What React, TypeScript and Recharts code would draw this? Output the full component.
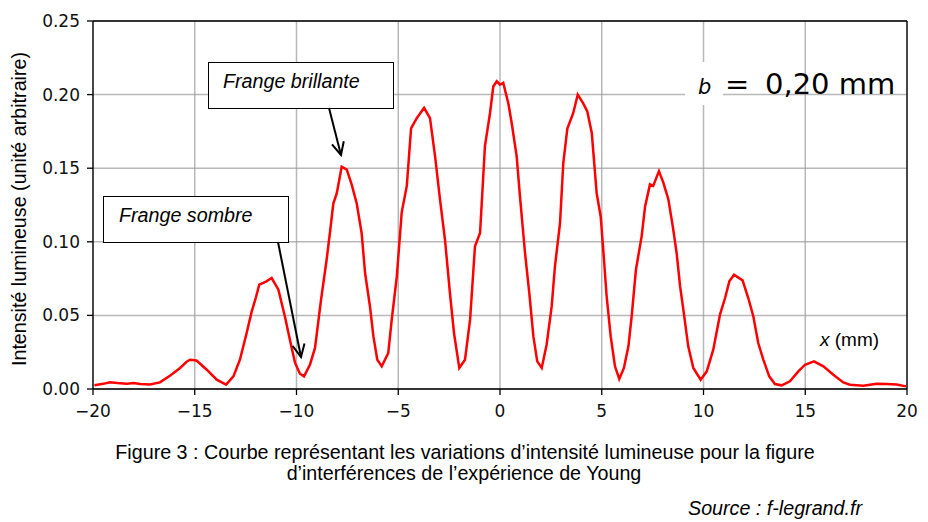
import React from 'react';
import { LineChart, Line, XAxis, YAxis, CartesianGrid, ReferenceLine } from 'recharts';

// positions (mm)
const positionMm = [
  -19.93, -19.5, -19.16, -18.8, -18.34, -18.0, -17.69, -17.2, -16.71, -16.22,
  -15.72, -15.4, -15.23, -15.0, -14.9, -14.41, -13.92, -13.46, -13.1, -12.78,
  -12.45, -12.2, -12.0, -11.83, -11.5, -11.22, -10.89, -10.57, -10.29, -10.07,
  -9.83, -9.63, -9.34, -9.09, -8.8, -8.52, -8.35, -8.19, -8.02, -7.78,
  -7.53, -7.29, -7.04, -6.8, -6.63, -6.39, -6.22, -6.03, -5.81, -5.49,
  -5.32, -5.07, -4.83, -4.58, -4.37, -4.09, -3.73, -3.44, -3.19, -2.95,
  -2.7, -2.46, -2.26, -2.0, -1.72, -1.47, -1.23, -0.98, -0.74, -0.49,
  -0.33, -0.16, 0.0, 0.16, 0.41, 0.57, 0.82, 0.98, 1.23, 1.44,
  1.64, 1.83, 2.05, 2.29, 2.54, 2.7, 2.95, 3.11, 3.31, 3.6,
  3.82, 4.09, 4.29, 4.51, 4.75, 4.95, 5.11, 5.24, 5.44, 5.65,
  5.86, 6.09, 6.31, 6.47, 6.68, 6.96, 7.13, 7.37, 7.53, 7.81,
  8.03, 8.27, 8.49, 8.68, 8.85, 9.01, 9.25, 9.5, 9.86, 10.16,
  10.48, 10.81, 11.06, 11.27, 11.5, 11.92, 12.2, 12.45, 12.69, 12.94,
  13.23, 13.51, 13.84, 14.25, 14.66, 14.99, 15.43, 15.89, 16.38, 16.87,
  17.2, 17.85, 18.51, 19.0, 19.49, 19.95,
];

// intensité (unité arbitraire)
const intensite = [
  0.0025, 0.0035, 0.0045, 0.004, 0.0036, 0.004, 0.0034, 0.003, 0.0045, 0.009,
  0.0143, 0.0185, 0.0199, 0.0195, 0.0192, 0.0131, 0.0063, 0.003, 0.0086, 0.0199,
  0.038, 0.0527, 0.062, 0.0709, 0.073, 0.0754, 0.0675, 0.0493, 0.0312, 0.0177,
  0.0104, 0.0086, 0.0165, 0.0279, 0.06, 0.0878, 0.107, 0.126, 0.133, 0.151,
  0.149, 0.139, 0.126, 0.106, 0.0788, 0.0561, 0.0357, 0.0199, 0.0154, 0.0245,
  0.0471, 0.0765, 0.12, 0.138, 0.177, 0.184, 0.191, 0.184, 0.158, 0.129,
  0.101, 0.0652, 0.038, 0.0143, 0.0199, 0.0471, 0.0969, 0.106, 0.165, 0.1875,
  0.2055, 0.209, 0.2067, 0.208, 0.194, 0.181, 0.158, 0.131, 0.0924, 0.0652,
  0.0357, 0.0188, 0.0143, 0.0301, 0.0561, 0.0833, 0.1128, 0.1535, 0.177, 0.1875,
  0.2, 0.194, 0.1886, 0.174, 0.133, 0.117, 0.0878, 0.063, 0.0357, 0.0154,
  0.0068, 0.0143, 0.029, 0.0493, 0.081, 0.1037, 0.124, 0.139, 0.138, 0.148,
  0.14, 0.129, 0.1105, 0.0924, 0.0697, 0.0539, 0.029, 0.0143, 0.0063, 0.012,
  0.0267, 0.0505, 0.0618, 0.0731, 0.0776, 0.0738, 0.0618, 0.0493, 0.0312, 0.0199,
  0.0086, 0.0034, 0.0025, 0.0052, 0.012, 0.0165, 0.0188, 0.0154, 0.0097, 0.0045,
  0.0029, 0.0022, 0.0036, 0.0034, 0.0031, 0.0018,
];

const xTicks = [-20, -15, -10, -5, 0, 5, 10, 15, 20];
const yTicks = [0, 0.05, 0.1, 0.15, 0.2, 0.25];

const data = positionMm.map((x, i) => ({ x, y: intensite[i] }));

const arial = '"Liberation Sans", Arial, sans-serif';
const dejavu = '"DejaVu Sans", sans-serif';
const tickStyle = { fontFamily: dejavu, fontSize: 17, fill: '#111' };
const gridColor = '#9a9a9a';

const fmtX = (v: number) => (v < 0 ? '\u2212' + Math.abs(v) : String(v));
const fmtY = (v: number) => v.toFixed(2);

// flèche style matplotlib "->"
const Arrow = ({ x1, y1, x2, y2 }: { x1: number; y1: number; x2: number; y2: number }) => {
  const a = Math.atan2(y2 - y1, x2 - x1);
  const len = 14;
  const spread = 0.45;
  const w1 = [x2 - len * Math.cos(a - spread), y2 - len * Math.sin(a - spread)];
  const w2 = [x2 - len * Math.cos(a + spread), y2 - len * Math.sin(a + spread)];
  return (
    <g stroke="#000" strokeWidth={2} fill="none">
      <line x1={x1} y1={y1} x2={x2} y2={y2} />
      <polyline points={`${w1[0]},${w1[1]} ${x2},${y2} ${w2[0]},${w2[1]}`} />
    </g>
  );
};

const App = () => {
  return (
    <div style={{ position: 'absolute', left: 0, top: 0, width: 928, height: 522, background: '#fff' }}>
      <LineChart width={928} height={522} data={data} margin={{ top: 21, right: 21, bottom: 103, left: 0 }}>
        <CartesianGrid
          stroke={gridColor}
          strokeWidth={1.5}
          strokeOpacity={0.7}
          horizontalValues={yTicks}
          verticalValues={xTicks}
        />
        <XAxis
          dataKey="x"
          type="number"
          domain={[-20, 20]}
          ticks={xTicks}
          interval={0}
          tickFormatter={fmtX}
          height={30}
          tick={tickStyle}
          tickSize={6}
          tickMargin={10}
          axisLine={{ stroke: '#000', strokeWidth: 1.3 }}
          tickLine={{ stroke: '#000', strokeWidth: 1.3 }}
        />
        <YAxis
          type="number"
          domain={[0, 0.25]}
          ticks={yTicks}
          interval={0}
          tickFormatter={fmtY}
          width={93}
          tick={tickStyle}
          tickSize={6}
          tickMargin={7}
          axisLine={{ stroke: '#000', strokeWidth: 1.3 }}
          tickLine={{ stroke: '#000', strokeWidth: 1.3 }}
        />
        <ReferenceLine y={0.25} stroke="#000" strokeWidth={1.3} />
        <ReferenceLine x={20} stroke="#000" strokeWidth={1.3} />
        <Line
          type="linear"
          dataKey="y"
          stroke="#ff0000"
          strokeWidth={2.5}
          dot={false}
          activeDot={false}
          isAnimationActive={false}
        />
      </LineChart>

      <svg width={928} height={522} style={{ position: 'absolute', left: 0, top: 0, pointerEvents: 'none' }}>
        <text
          x={25.5}
          y={209}
          transform="rotate(-90, 25.5, 209)"
          textAnchor="middle"
          fontFamily={arial}
          fontSize={19.7}
          fill="#000"
        >
          Intensité lumineuse (unité arbitraire)
        </text>

        <rect x={208.5} y={62.5} width={185} height={46} fill="#fff" stroke="#000" strokeWidth={1} />
        <text x={223} y={88} fontFamily={arial} fontStyle="italic" fontSize={19.7} fill="#000">
          Frange brillante
        </text>
        <Arrow x1={329} y1={108} x2={341} y2={155} />

        <rect x={103.5} y={196.5} width={185} height={46} fill="#fff" stroke="#000" strokeWidth={1} />
        <text x={119} y={222} fontFamily={arial} fontStyle="italic" fontSize={19.7} fill="#000">
          Frange sombre
        </text>
        <Arrow x1={278} y1={242} x2={301} y2={357} />

        <rect x={685} y={62} width={38} height={43} fill="#fff" />
        <text x={698} y={94} fontFamily={dejavu} fontStyle="italic" fontSize={21} fill="#000">
          b
        </text>
        <text x={725} y={94} fontFamily={dejavu} fontSize={29} fill="#000">
          =
        </text>
        <text x={765} y={94} fontFamily={dejavu} fontSize={29} fill="#000">
          0,20 mm
        </text>

        <text x={820} y={346} fontFamily={arial} fontSize={19} fill="#000">
          <tspan fontStyle="italic">x</tspan> (mm)
        </text>

        <text x={465} y={459} textAnchor="middle" fontFamily={arial} fontSize={19.7} fill="#000">
          Figure 3 : Courbe représentant les variations d’intensité lumineuse pour la figure
        </text>
        <text x={464} y={480} textAnchor="middle" fontFamily={arial} fontSize={19.7} fill="#000">
          d’interférences de l’expérience de Young
        </text>
        <text x={688} y={515} fontFamily={arial} fontStyle="italic" fontSize={19.7} fill="#000">
          Source : f-legrand.fr
        </text>
      </svg>
    </div>
  );
};

export default App;
